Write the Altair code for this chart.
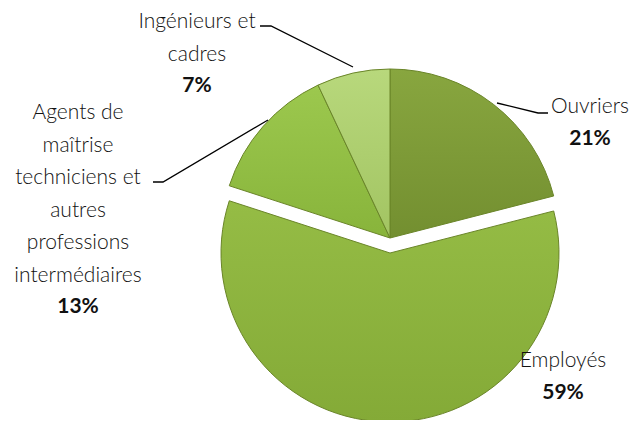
import altair as alt
import pandas as pd

# ---- data ----
categories = [
    "Ouvriers",
    "Employés",
    "Agents de maîtrise techniciens et autres professions intermédiaires",
    "Ingénieurs et cadres",
]
shares = [21, 59, 13, 7]
pct_labels = ["21%", "59%", "13%", "7%"]
name_lines = [
    ["Ouvriers"],
    ["Employés"],
    ["Agents de", "maîtrise", "techniciens et", "autres", "professions", "intermédiaires"],
    ["Ingénieurs et", "cadres"],
]
exploded = "Employés"

# ---- styles / layout ----
grad_top = ["#88a63f", "#95bc45", "#9cc84e", "#b8d87c"]
grad_bot = ["#738f30", "#84aa37", "#88b43b", "#a2c462"]
rim = "#6a8529"
W, H = 623, 412
CX, CY, R = 382, 230, 169
EXPLODE = 15
LINE_H = 32.5
FONT = "Lato"
FS = 21
label_anchor = {
    "Ouvriers": (582, 99),
    "Employés": (555, 353),
    categories[2]: (70, 105),
    "Ingénieurs et cadres": (189, 14),
}
leaders = {
    "Ouvriers": [(489, 95), (530, 105), (540, 105)],
    categories[2]: [(145, 174), (155, 174), (260, 112)],
    "Ingénieurs et cadres": [(252, 18), (263, 18), (345, 59)],
}

df = pd.DataFrame({"category": categories, "share": shares, "order": range(len(categories))})

base = (
    alt.Chart(df)
    .transform_window(cum="sum(share)", frame=[None, 0], sort=[alt.SortField("order")])
    .transform_calculate(start="datum.cum - datum.share")
)
theta = alt.Theta("start:Q", scale=alt.Scale(domain=[0, 100], range=[0, 6.283185]), stack=None)
theta2 = alt.Theta2("cum:Q")

slices = []
for i, cat in enumerate(categories):
    grad = alt.LinearGradient(
        gradient="linear", x1=0, x2=0, y1=0, y2=1,
        stops=[alt.GradientStop(color=grad_top[i], offset=0),
               alt.GradientStop(color=grad_bot[i], offset=1)],
    )
    cy = CY + (EXPLODE if cat == exploded else 0)
    slices.append(
        base.transform_filter(alt.datum.category == cat)
        .mark_arc(stroke=rim, strokeWidth=1, color=grad)
        .encode(theta=theta, theta2=theta2,
                x=alt.value(CX), y=alt.value(cy), radius=alt.value(R))
    )

rows = []
for cat, lines, pct in zip(categories, name_lines, pct_labels):
    ax, ay = label_anchor[cat]
    for i, ln in enumerate(lines):
        rows.append({"txt": ln, "px": ax, "py": ay + i * LINE_H, "bold": False})
    rows.append({"txt": pct, "px": ax, "py": ay + len(lines) * LINE_H - 1, "bold": True})
lab = pd.DataFrame(rows)

names = (
    alt.Chart(lab).transform_filter("!datum.bold")
    .mark_text(font=FONT, fontSize=FS, fontWeight=300, color="#111111", align="center", baseline="middle")
    .encode(x=alt.X("px:Q", scale=None), y=alt.Y("py:Q", scale=None), text="txt:N")
)
pcts = (
    alt.Chart(lab).transform_filter("datum.bold")
    .mark_text(font=FONT, fontSize=FS, fontWeight="bold", color="#111111", align="center", baseline="middle")
    .encode(x=alt.X("px:Q", scale=None), y=alt.Y("py:Q", scale=None), text="txt:N")
)

lrows = []
for cat, pts in leaders.items():
    for i, (lx, ly) in enumerate(pts):
        lrows.append({"cat": cat, "i": i, "lx": lx, "ly": ly})
ldf = pd.DataFrame(lrows)
lines = (
    alt.Chart(ldf)
    .mark_line(color="#000000", strokeWidth=1.3)
    .encode(x=alt.X("lx:Q", scale=None), y=alt.Y("ly:Q", scale=None),
            detail="cat:N", order="i:Q")
)

chart = (
    alt.layer(*slices, lines, names, pcts)
    .properties(width=W, height=H, autosize=alt.AutoSizeParams(type="none"), padding=0)
    .configure_view(stroke=None)
)
chart.save("out.html", embed_options={"renderer": "svg", "actions": False})
